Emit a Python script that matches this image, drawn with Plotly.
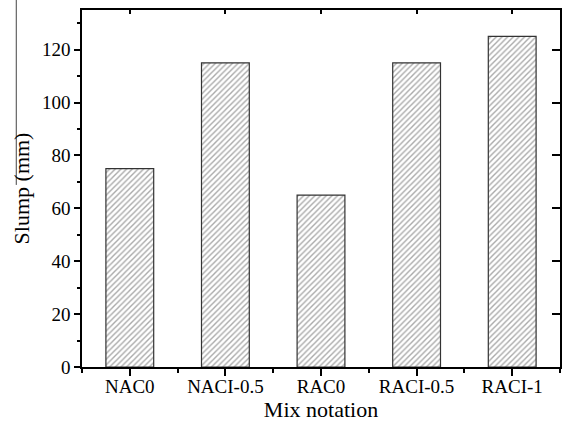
import plotly.graph_objects as go

categories = ["NAC0", "NACI-0.5", "RAC0", "RACI-0.5", "RACI-1"]
slump = [75, 115, 65, 115, 125]
y_ticks = [0, 20, 40, 60, 80, 100, 120]

xpos = list(range(len(categories)))
FONT = "Liberation Serif, Times New Roman, serif"

fig = go.Figure()
fig.add_trace(go.Bar(
    x=xpos, y=slump, width=0.5,
    marker=dict(color="white",
                line=dict(color="#333333", width=1.2),
                pattern=dict(shape="/", fgcolor="#555555", bgcolor="white",
                             size=4, solidity=0.35)),
    showlegend=False, hoverinfo="skip",
))
# invisible copies so the top / right (inside-tick) axes get drawn
fig.add_trace(go.Scatter(x=xpos, y=slump, xaxis="x2", yaxis="y",
                         mode="markers", marker=dict(opacity=0, size=1),
                         showlegend=False, hoverinfo="skip"))
fig.add_trace(go.Scatter(x=xpos, y=slump, xaxis="x", yaxis="y2",
                         mode="markers", marker=dict(opacity=0, size=1),
                         showlegend=False, hoverinfo="skip"))

fig.update_layout(
    width=566, height=424,
    margin=dict(l=82, r=4, t=10, b=57),
    paper_bgcolor="white", plot_bgcolor="white",
    font=dict(family=FONT, size=19, color="black"),
    xaxis=dict(
        range=[-0.5, 4.5], tickmode="array", tickvals=xpos, ticktext=categories,
        ticks="outside", ticklen=7, tickwidth=1.5, tickcolor="black",
        showline=True, linecolor="black", linewidth=1.5, mirror=True,
        showgrid=False, zeroline=False,
        minor=dict(tickmode="array", tickvals=[i - 0.5 for i in range(len(categories) + 1)],
                   ticks="outside", ticklen=4, tickwidth=1.5, tickcolor="black"),
        title=dict(text="Mix notation", font=dict(size=22), standoff=0),
        tickfont=dict(size=19),
        ticklabelstandoff=-6,
    ),
    xaxis2=dict(
        overlaying="x", side="top", anchor="y", range=[-0.5, 4.5],
        tickmode="array", tickvals=xpos, showticklabels=False,
        ticks="inside", ticklen=4, tickwidth=1.5, tickcolor="black",
        showline=True, linecolor="black", linewidth=1.5,
        showgrid=False, zeroline=False,
    ),
    yaxis=dict(
        range=[0, 135], tickmode="array", tickvals=y_ticks,
        ticks="outside", ticklen=6, tickwidth=1.5, tickcolor="black",
        showline=True, linecolor="black", linewidth=1.5, mirror=True,
        showgrid=False, zeroline=False,
        minor=dict(dtick=10, tick0=0, ticks="outside", ticklen=3.5,
                   tickwidth=1.5, tickcolor="black"),
        title=dict(text="Slump (mm)", font=dict(size=22), standoff=6),
        tickfont=dict(size=19),
    ),
    yaxis2=dict(
        overlaying="y", side="right", anchor="x", range=[0, 135],
        tickmode="array", tickvals=y_ticks, showticklabels=False,
        ticks="inside", ticklen=8, tickwidth=1.5, tickcolor="black",
        showline=True, linecolor="black", linewidth=1.5,
        showgrid=False, zeroline=False,
    ),
    shapes=[dict(type="line", xref="paper", yref="paper",
                 x0=-0.1375, x1=-0.1375, y0=1.03, y1=0.51,
                 line=dict(color="#444444", width=1))],
)

fig.write_html("out.html")
